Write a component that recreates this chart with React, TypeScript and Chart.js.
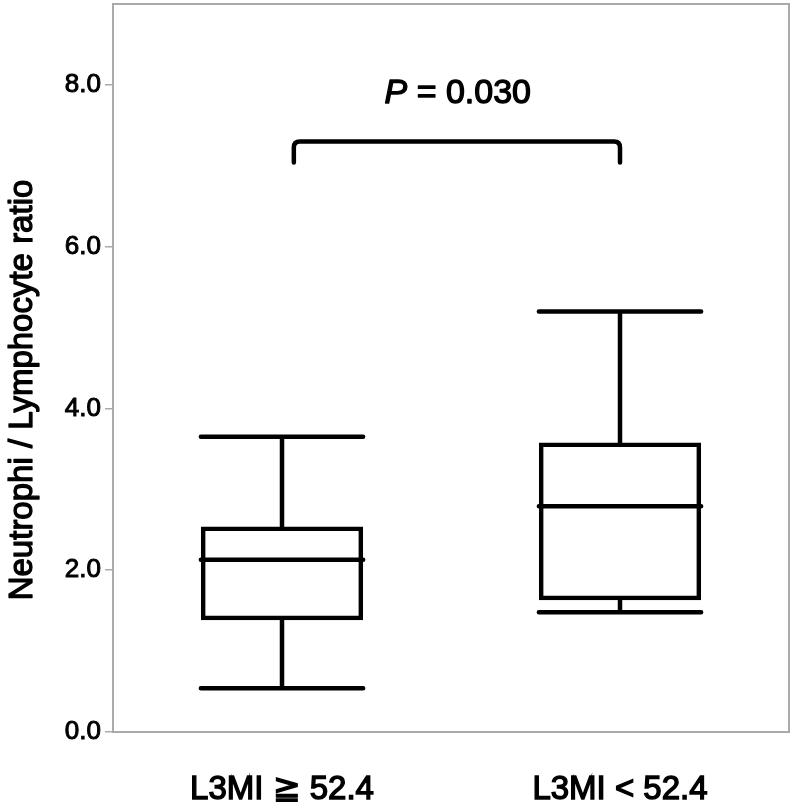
import React, { useEffect, useRef } from "react";
import { Chart, registerables } from "chart.js";

Chart.register(...registerables);

const categories = ["L3MI \u2267 52.4", "L3MI < 52.4"];
const whiskerLow = [0.54, 1.48];
const q1 = [1.38, 1.63];
const median = [2.13, 2.79];
const q3 = [2.54, 3.58];
const whiskerHigh = [3.65, 5.2];
const yTicks = [0, 2, 4, 6, 8];
const yTitle = "Neutrophi / Lymphocyte ratio";
const pLabel = "P";
const pValueText = " = 0.030";
const bracketFrom = 0.035;
const bracketTo = 1.0;
const bracketTop = 7.3;
const bracketLegBottom = 7.04;
const pTextX = 0.52;
const pTextY = 7.77;

const FONT = '"Liberation Sans", Arial, Helvetica, sans-serif';

function heavyText(ctx: any, text: string, x: number, y: number, sw: number) {
  ctx.lineWidth = sw;
  ctx.strokeStyle = "#000";
  ctx.lineJoin = "round";
  ctx.strokeText(text, x, y);
  ctx.fillText(text, x, y);
}

const boxPlugin = {
  id: "boxExtras",
  afterDatasetsDraw(chart: any) {
    const { ctx, chartArea } = chart;
    const x = chart.scales.x;
    const y = chart.scales.y;
    const meta = chart.getDatasetMeta(0);
    ctx.save();
    // frame top/right
    ctx.strokeStyle = "#aaaaaa";
    ctx.lineWidth = 2;
    ctx.beginPath();
    ctx.moveTo(chartArea.left, chartArea.top);
    ctx.lineTo(chartArea.right, chartArea.top);
    ctx.lineTo(chartArea.right, chartArea.bottom);
    ctx.stroke();

    ctx.strokeStyle = "#000";
    ctx.lineWidth = 4.5;
    ctx.lineCap = "round";
    meta.data.forEach((bar: any, i: number) => {
      const cx = bar.x;
      const half = bar.width / 2;
      const yl = y.getPixelForValue(whiskerLow[i]);
      const y1 = y.getPixelForValue(q1[i]);
      const ym = y.getPixelForValue(median[i]);
      const y3 = y.getPixelForValue(q3[i]);
      const yh = y.getPixelForValue(whiskerHigh[i]);
      ctx.beginPath();
      ctx.moveTo(cx, y3);
      ctx.lineTo(cx, yh);
      ctx.moveTo(cx, y1);
      ctx.lineTo(cx, yl);
      ctx.moveTo(cx - half, yh);
      ctx.lineTo(cx + half, yh);
      ctx.moveTo(cx - half, yl);
      ctx.lineTo(cx + half, yl);
      ctx.moveTo(cx - half, ym);
      ctx.lineTo(cx + half, ym);
      ctx.stroke();
    });

    // bracket
    const bx1 = x.getPixelForValue(bracketFrom);
    const bx2 = x.getPixelForValue(bracketTo);
    const bt = y.getPixelForValue(bracketTop);
    const bb = y.getPixelForValue(bracketLegBottom);
    const r = 6;
    ctx.lineWidth = 4.5;
    ctx.lineJoin = "round";
    ctx.beginPath();
    ctx.moveTo(bx1, bb);
    ctx.lineTo(bx1, bt + r);
    ctx.quadraticCurveTo(bx1, bt, bx1 + r, bt);
    ctx.lineTo(bx2 - r, bt);
    ctx.quadraticCurveTo(bx2, bt, bx2, bt + r);
    ctx.lineTo(bx2, bb);
    ctx.stroke();

    // P value text
    const px = x.getPixelForValue(pTextX);
    const py = y.getPixelForValue(pTextY);
    ctx.fillStyle = "#000";
    ctx.textBaseline = "alphabetic";
    ctx.textAlign = "left";
    ctx.font = `italic 34px ${FONT}`;
    const wP = ctx.measureText(pLabel).width;
    ctx.font = `34px ${FONT}`;
    const wR = ctx.measureText(pValueText).width;
    const start = px - (wP + wR) / 2;
    ctx.font = `italic 34px ${FONT}`;
    heavyText(ctx, pLabel, start, py, 1.3);
    ctx.font = `34px ${FONT}`;
    heavyText(ctx, pValueText, start + wP, py, 1.3);

    // y title
    ctx.save();
    ctx.translate(32, (chartArea.top + chartArea.bottom) / 2 + 22);
    ctx.rotate(-Math.PI / 2);
    ctx.textAlign = "center";
    ctx.textBaseline = "alphabetic";
    ctx.font = `33px ${FONT}`;
    heavyText(ctx, yTitle, 0, 0, 1.3);
    ctx.restore();

    ctx.restore();
  },
};

export default function App() {
  const ref = useRef<HTMLCanvasElement>(null);
  useEffect(() => {
    if (!ref.current) return;
    const chart = new Chart(ref.current, {
      type: "bar",
      data: {
        labels: categories,
        datasets: [
          {
            data: categories.map((_, i) => [q1[i], q3[i]]) as any,
            backgroundColor: "rgba(255,255,255,0)",
            borderColor: "#000",
            borderWidth: 4.5,
            borderSkipped: false,
            barPercentage: 0.48,
            categoryPercentage: 1,
          },
        ],
      },
      options: {
        animation: false,
        responsive: true,
        maintainAspectRatio: false,
        layout: { padding: { top: 4, right: 6, left: 0, bottom: 0 } },
        plugins: { legend: { display: false }, tooltip: { enabled: false } },
        scales: {
          x: {
            grid: { display: false },
            border: { display: true, color: "#aaaaaa", width: 2 },
            ticks: {
              color: "#000",
              font: { family: FONT, size: 33 },
              padding: 30,
              textStrokeColor: "#000",
              textStrokeWidth: 1.4,
            },
            afterFit: (s: any) => {
              s.height = 70;
              s.paddingLeft = 0;
              s.paddingRight = 0;
            },
          },
          y: {
            min: 0,
            max: 9,
            afterBuildTicks: (s: any) => {
              s.ticks = yTicks.map((v) => ({ value: v }));
            },
            grid: {
              drawOnChartArea: false,
              drawTicks: true,
              tickLength: 8,
              color: "#aaaaaa",
              lineWidth: 1.5,
            },
            border: { display: true, color: "#aaaaaa", width: 2 },
            ticks: {
              color: "#000",
              font: { family: FONT, size: 26 },
              padding: 4,
              textStrokeColor: "#000",
              textStrokeWidth: 1,
              callback: (v: any) => Number(v).toFixed(1),
            },
            afterFit: (s: any) => {
              s.width = 113;
              s.paddingTop = 0;
              s.paddingBottom = 0;
            },
          },
        },
      },
      plugins: [boxPlugin],
    });
    return () => chart.destroy();
  }, []);
  return (
    <div
      style={{
        position: "fixed",
        left: 0,
        top: 0,
        width: 795,
        height: 802,
        background: "#fff",
      }}
    >
      <canvas ref={ref} />
    </div>
  );
}
